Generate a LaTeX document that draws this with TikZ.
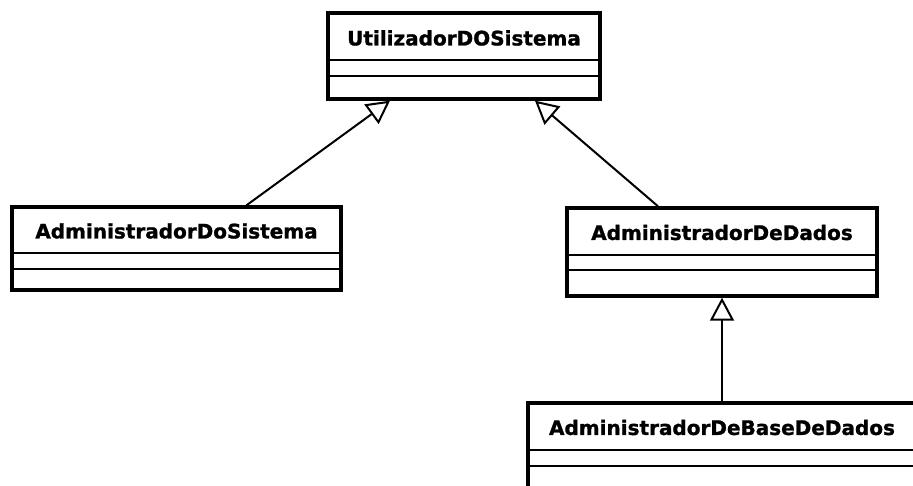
\documentclass[tikz,border=0pt]{standalone}
\usepackage{fontspec}
\newfontfamily\classfont[BoldFeatures={FakeBold=1.2}]{DejaVu Sans}
\usetikzlibrary{arrows.meta}

\tikzset{
  classbox/.style={draw,line width=3.4pt,inner sep=0pt,fill=white},
  classname/.style={inner sep=0pt,font=\classfont\bfseries\fontsize{20}{24}\selectfont},
  sepline/.style={line width=2.2pt},
  inherit/.style={line width=2pt,-{Triangle[open,length=23pt,width=24pt,line width=2pt]}}
}

\begin{document}
\begin{tikzpicture}[x=1pt,y=-1pt]
\useasboundingbox (0,0) rectangle (913,486);
\clip (0,0) rectangle (913,486);

\node[classbox,minimum width=272pt,minimum height=86pt] (sistema) at (464,56) {};
\node[classname] (sistemaname) at (464,38) {UtilizadorDOSistema};
\draw[sepline] ([yshift=-49pt]sistema.north west) -- ([yshift=-49pt]sistema.north east);
\draw[sepline] ([yshift=-65pt]sistema.north west) -- ([yshift=-65pt]sistema.north east);

\node[classbox,minimum width=329pt,minimum height=83pt] (dosistema) at (176.5,248.5) {};
\node[classname] (dosistemaname) at (176.5,231) {AdministradorDoSistema};
\draw[sepline] ([yshift=-48pt]dosistema.north west) -- ([yshift=-48pt]dosistema.north east);
\draw[sepline] ([yshift=-64pt]dosistema.north west) -- ([yshift=-64pt]dosistema.north east);

\node[classbox,minimum width=310pt,minimum height=88pt] (dados) at (722,252) {};
\node[classname] (dadosname) at (722,232.5) {AdministradorDeDados};
\draw[sepline] ([yshift=-49pt]dados.north west) -- ([yshift=-49pt]dados.north east);
\draw[sepline] ([yshift=-64pt]dados.north west) -- ([yshift=-64pt]dados.north east);

\node[classbox,minimum width=388pt,minimum height=90pt] (basedados) at (722,448) {};
\node[classname] (basedadosname) at (722,427.5) {AdministradorDeBaseDeDados};
\draw[sepline] ([yshift=-49pt]basedados.north west) -- ([yshift=-49pt]basedados.north east);
\draw[sepline] ([yshift=-65pt]basedados.north west) -- ([yshift=-65pt]basedados.north east);

\draw[inherit] ([xshift=70pt]dosistema.north) -- ([xshift=-74pt]sistema.south);
\draw[inherit] ([xshift=-64pt]dados.north) -- ([xshift=71pt]sistema.south);
\draw[inherit] (basedados.north) -- (dados.south);
\end{tikzpicture}
\end{document}
